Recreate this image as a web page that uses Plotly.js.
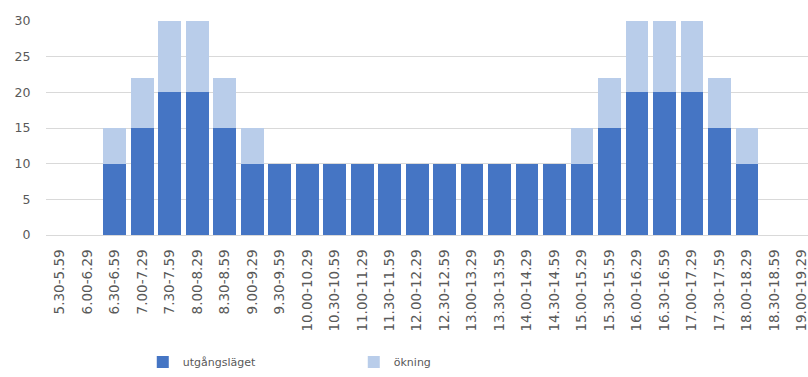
<!DOCTYPE html>
<html>
<head>
<meta charset="utf-8">
<script src="https://cdn.plot.ly/plotly-3.0.1.min.js"></script>
<style>
  html, body { margin: 0; padding: 0; background: #ffffff; }
  #chart { width: 808px; height: 377px; }
</style>
</head>
<body>
<div id="chart"></div>
<script>
// Half-hour time slots
const slots = [
  "5.30-5.59", "6.00-6.29", "6.30-6.59", "7.00-7.29", "7.30-7.59",
  "8.00-8.29", "8.30-8.59", "9.00-9.29", "9.30-9.59", "10.00-10.29",
  "10.30-10.59", "11.00-11.29", "11.30-11.59", "12.00-12.29", "12.30-12.59",
  "13.00-13.29", "13.30-13.59", "14.00-14.29", "14.30-14.59", "15.00-15.29",
  "15.30-15.59", "16.00-16.29", "16.30-16.59", "17.00-17.29", "17.30-17.59",
  "18.00-18.29", "18.30-18.59", "19.00-19.29"
];

// Baseline count per slot
const utgangslaget = [
  0, 0, 10, 15, 20, 20, 15, 10, 10, 10,
  10, 10, 10, 10, 10, 10, 10, 10, 10, 10,
  15, 20, 20, 20, 15, 10, 0, 0
];

// Increase on top of the baseline
const okning = [
  0, 0, 5, 7, 10, 10, 7, 5, 0, 0,
  0, 0, 0, 0, 0, 0, 0, 0, 0, 5,
  7, 10, 10, 10, 7, 5, 0, 0
];

const yTicks = [0, 5, 10, 15, 20, 25, 30];

const textFont = { family: "DejaVu Sans, sans-serif", size: 12.5, color: "#595959" };
const slotFont = { family: "DejaVu Sans, sans-serif", size: 13.5, color: "#595959" };

const traces = [
  {
    type: "bar",
    name: "utgångsläget",
    x: slots,
    y: utgangslaget,
    marker: { color: "#4575C4" },
    hoverinfo: "x+y+name"
  },
  {
    type: "bar",
    name: "ökning",
    x: slots,
    y: okning,
    marker: { color: "#B9CDEA" },
    hoverinfo: "x+y+name"
  }
];

const layout = {
  width: 808,
  height: 377,
  margin: { l: 46, r: 0, t: 21, b: 142 },
  paper_bgcolor: "#ffffff",
  plot_bgcolor: "#ffffff",
  barmode: "stack",
  bargap: 0.17,
  font: textFont,
  showlegend: true,
  legend: {
    orientation: "h",
    x: 0.127,
    xanchor: "left",
    yref: "container",
    y: 0.04,
    yanchor: "middle",
    traceorder: "normal",
    entrywidth: 166,
    entrywidthmode: "pixels",
    font: { family: "DejaVu Sans, sans-serif", size: 11, color: "#595959" },
    bgcolor: "rgba(0,0,0,0)"
  },
  xaxis: {
    type: "category",
    range: [-0.5, 27.22],
    tickangle: -90,
    tickfont: slotFont,
    ticks: "outside",
    ticklen: 8,
    tickcolor: "rgba(0,0,0,0)",
    showgrid: false,
    showline: false,
    zeroline: false,
    fixedrange: true
  },
  yaxis: {
    range: [0, 30],
    tickvals: yTicks,
    ticktext: yTicks.map(String),
    tickfont: textFont,
    ticks: "outside",
    ticklen: 12,
    tickcolor: "rgba(0,0,0,0)",
    showgrid: true,
    gridcolor: "#D9D9D9",
    gridwidth: 1,
    zeroline: true,
    zerolinecolor: "#D9D9D9",
    zerolinewidth: 1,
    showline: false,
    fixedrange: true
  }
};

Plotly.newPlot("chart", traces, layout, { displayModeBar: false, staticPlot: true });
</script>
</body>
</html>
